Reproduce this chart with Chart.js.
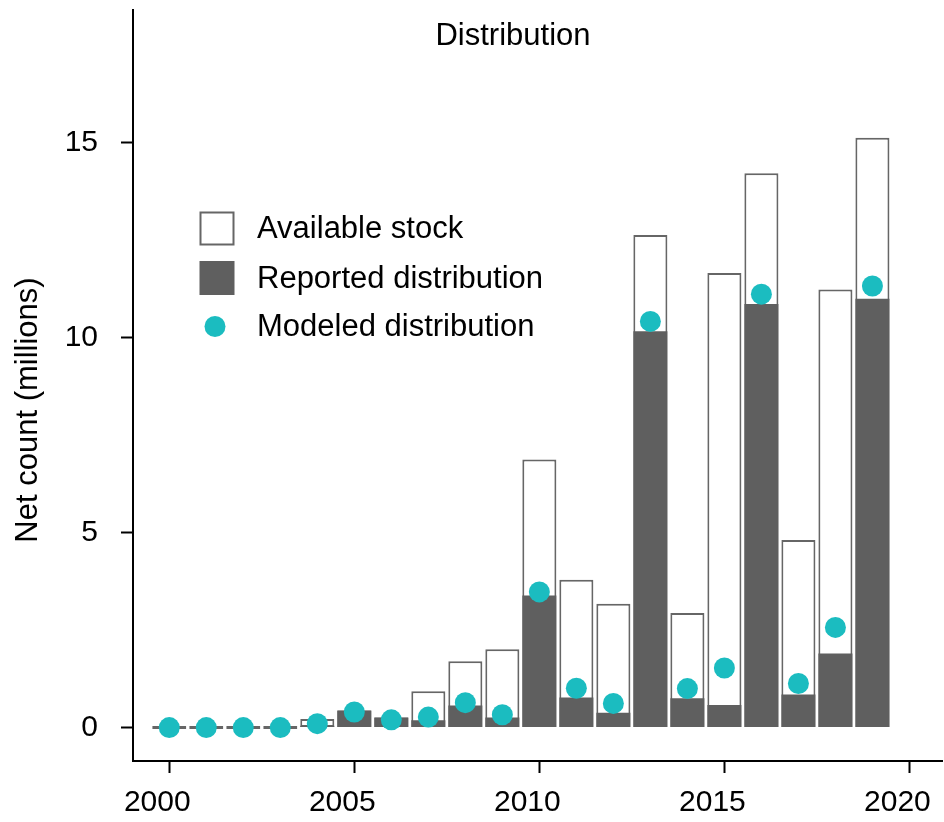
<!DOCTYPE html>
<html>
<head>
<meta charset="utf-8">
<script src="https://cdn.jsdelivr.net/npm/chart.js@4/dist/chart.umd.min.js"></script>
<style>
  html, body { margin: 0; padding: 0; background: #ffffff; }
  #wrap { width: 944px; height: 822px; }
</style>
</head>
<body>
<div id="wrap"><canvas id="chart" width="944" height="822"></canvas></div>
<script>
// Yearly figures, in millions
const years = [2000, 2001, 2002, 2003, 2004, 2005, 2006, 2007, 2008, 2009,
               2010, 2011, 2012, 2013, 2014, 2015, 2016, 2017, 2018, 2019];
const availableStock = [0, 0, 0, 0, 0.22, 0.44, 0.26, 0.93, 1.70, 2.01,
                        6.88, 3.79, 3.18, 12.64, 2.94, 11.66, 14.22, 4.81, 11.24, 15.13];
const reportedDistribution = [0, 0, 0, 0, 0.05, 0.44, 0.26, 0.19, 0.57, 0.26,
                              3.39, 0.77, 0.38, 10.17, 0.75, 0.58, 10.87, 0.85, 1.90, 11.00];
const modeledDistribution = [0, 0, 0, 0, 0.10, 0.40, 0.20, 0.27, 0.64, 0.33,
                             3.48, 1.01, 0.62, 10.42, 1.00, 1.53, 11.12, 1.13, 2.57, 11.33];

const xTicks = [2000, 2005, 2010, 2015, 2020];
const yTicks = [0, 5, 10, 15];
const chartTitle = 'Distribution';
const yAxisTitle = 'Net count (millions)';
const seriesNames = ['Available stock', 'Reported distribution', 'Modeled distribution'];

const FONT = '"Liberation Sans", Arial, Helvetica, sans-serif';
const OUTLINE = '#666666';
const DARK = '#5f5f5f';
const TEAL = '#1bbcc0';

Chart.defaults.font.family = FONT;
Chart.defaults.color = '#000000';

const toPoints = vals => years.map((yr, i) => ({ x: yr, y: vals[i] }));

// Title, rotated y-axis title and the in-panel key
const decorations = {
  id: 'decorations',
  afterDraw(chart) {
    const ctx = chart.ctx;
    ctx.save();
    ctx.fillStyle = '#000000';
    ctx.font = '31px ' + FONT;
    ctx.textAlign = 'center';
    ctx.textBaseline = 'alphabetic';
    ctx.fillText(chartTitle, 513, 45);

    ctx.save();
    ctx.translate(37, 410);
    ctx.rotate(-Math.PI / 2);
    ctx.fillText(yAxisTitle, 0, 0);
    ctx.restore();

    // key
    const keyX = 199.5, boxW = 35, boxH = 34;
    const rows = [228.5, 278, 326.5];
    // available stock swatch
    ctx.fillStyle = '#ffffff';
    ctx.fillRect(keyX, rows[0] - boxH / 2, boxW, boxH);
    ctx.strokeStyle = OUTLINE;
    ctx.lineWidth = 2;
    ctx.strokeRect(keyX + 1, rows[0] - boxH / 2 + 1, boxW - 2, boxH - 2);
    // reported distribution swatch
    ctx.fillStyle = DARK;
    ctx.fillRect(keyX, rows[1] - boxH / 2, boxW, boxH);
    // modeled distribution marker
    ctx.fillStyle = TEAL;
    ctx.beginPath();
    ctx.arc(215, rows[2], 10.5, 0, Math.PI * 2);
    ctx.fill();

    ctx.fillStyle = '#000000';
    ctx.textAlign = 'left';
    ctx.textBaseline = 'middle';
    ctx.font = '31px ' + FONT;
    seriesNames.forEach((name, i) => ctx.fillText(name, 257, rows[i] + 1));
    ctx.restore();
  }
};

const gridStyle = { drawOnChartArea: false, drawTicks: true, tickLength: 12, tickColor: '#000000', tickWidth: 2, color: '#000000', offset: false };
const borderStyle = { display: true, color: '#000000', width: 2 };

new Chart(document.getElementById('chart'), {
  type: 'bar',
  data: {
    datasets: [
      {
        type: 'scatter',
        label: seriesNames[2],
        data: toPoints(modeledDistribution),
        backgroundColor: TEAL,
        borderWidth: 0,
        pointRadius: 10.5,
        pointHoverRadius: 10.5,
        order: 0
      },
      {
        label: seriesNames[1],
        data: toPoints(reportedDistribution),
        backgroundColor: DARK,
        borderWidth: 0,
        grouped: false,
        categoryPercentage: 1,
        barPercentage: 0.92,
        order: 1
      },
      {
        label: seriesNames[0],
        data: toPoints(availableStock),
        backgroundColor: '#ffffff',
        borderColor: OUTLINE,
        borderWidth: 2,
        borderSkipped: false,
        minBarLength: 3,
        grouped: false,
        categoryPercentage: 1,
        barPercentage: 0.92,
        order: 2
      }
    ]
  },
  options: {
    responsive: false,
    animation: false,
    devicePixelRatio: 1,
    layout: { autoPadding: false, padding: { top: 10, right: 2, left: 0, bottom: 0 } },
    plugins: {
      legend: { display: false },
      tooltip: { enabled: false },
      title: { display: false }
    },
    scales: {
      x: {
        type: 'linear',
        offset: false,
        min: 1999.02,
        max: 2020.88,
        afterBuildTicks: s => { s.ticks = xTicks.map(v => ({ value: v })); },
        afterFit: s => { s.height = 61; s.paddingLeft = 0; s.paddingRight = 0; },
        ticks: {
          callback: v => String(v),
          font: { size: 30 },
          color: '#000000',
          padding: 12,
          labelOffset: -12,
          maxRotation: 0,
          autoSkip: false
        },
        grid: gridStyle,
        border: borderStyle
      },
      y: {
        type: 'linear',
        min: -0.857,
        max: 18.41,
        afterBuildTicks: s => { s.ticks = yTicks.map(v => ({ value: v })); },
        afterFit: s => { s.width = 133; s.paddingTop = 0; s.paddingBottom = 0; },
        ticks: {
          callback: v => String(v),
          font: { size: 30 },
          color: '#000000',
          padding: 23
        },
        grid: gridStyle,
        border: borderStyle
      }
    }
  },
  plugins: [decorations]
});
</script>
</body>
</html>
